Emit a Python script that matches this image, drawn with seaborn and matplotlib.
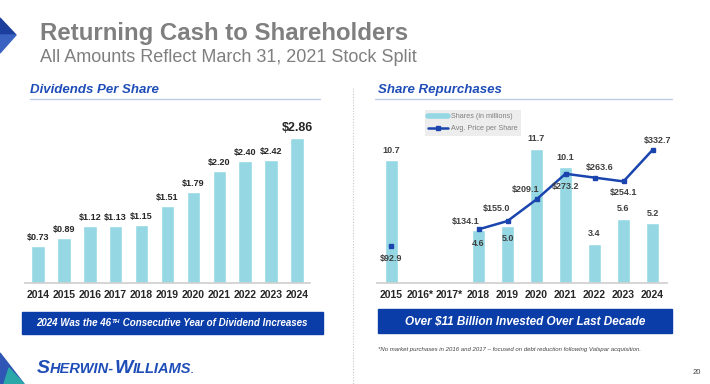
import numpy as np
import matplotlib
matplotlib.use('Agg')
import matplotlib.pyplot as plt
import seaborn as sns
from matplotlib.patches import Rectangle, Polygon
from matplotlib.lines import Line2D

# data
div_years = ['2014', '2015', '2016', '2017', '2018', '2019', '2020', '2021', '2022', '2023', '2024']
div_values = [0.73, 0.89, 1.12, 1.13, 1.15, 1.51, 1.79, 2.20, 2.40, 2.42, 2.86]

rep_years = ['2015', '2016*', '2017*', '2018', '2019', '2020', '2021', '2022', '2023', '2024']
rep_shares = [10.7, np.nan, np.nan, 4.6, 5.0, 11.7, 10.1, 3.4, 5.6, 5.2]
rep_price = [92.9, np.nan, np.nan, 134.1, 155.0, 209.1, 273.2, 263.6, 254.1, 332.7]

BAR = '#95D8E3'
LINE = '#1A45AE'
BLUE = '#0B3DA9'
HEAD = '#1E4DB7'
GRAY = '#7F7F7F'
DARK = '#262626'

sns.set_theme(style='white')
plt.rcParams['font.family'] = ['Liberation Sans', 'DejaVu Sans']

W, H = 710, 384
fig = plt.figure(figsize=(7.1, 3.84), dpi=100)


def px(x, y):
    return (x / W, 1 - y / H)


def rect(x0, y0, x1, y1):
    return [x0 / W, 1 - y1 / H, (x1 - x0) / W, (y1 - y0) / H]


# --- header ---
fig.text(*px(40, 40), 'Returning Cash to Shareholders', fontsize=17.3, fontweight='bold',
         color=GRAY, va='baseline')
fig.text(*px(40, 62), 'All Amounts Reflect March 31, 2021 Stock Split', fontsize=13,
         color=GRAY, va='baseline')
fig.patches.append(Polygon([px(0, 18), px(16, 35), px(0, 35)], closed=True,
                           transform=fig.transFigure, color='#1C3E9C'))
fig.patches.append(Polygon([px(0, 35), px(16, 35), px(0, 53)], closed=True,
                           transform=fig.transFigure, color='#3A62C0'))

# section headings
fig.text(*px(30, 93), 'Dividends Per Share', fontsize=9.5, fontweight='bold', style='italic',
         color=HEAD, va='baseline')
fig.text(*px(378, 93), 'Share Repurchases', fontsize=9.5, fontweight='bold', style='italic',
         color=HEAD, va='baseline')
fig.add_artist(Line2D([30 / W, 320 / W], [1 - 99 / H] * 2, color='#BCCBE8', lw=1))
fig.add_artist(Line2D([375 / W, 672 / W], [1 - 99 / H] * 2, color='#BCCBE8', lw=1))
fig.add_artist(Line2D([353 / W] * 2, [1 - 88 / H, 0], color='#C8C8C8', lw=0.8, ls=(0, (1, 1.5))))

# --- left: dividends ---
ax1 = fig.add_axes(rect(25, 120, 310, 283))
sns.barplot(x=div_years, y=div_values, color=BAR, saturation=1, width=0.52, ax=ax1)
ax1.set_xlim(-0.5, 10.5)
ax1.set_ylim(0, 3.215)
for i, v in enumerate(div_values):
    big = i == len(div_values) - 1
    ax1.annotate(f'${v:.2f}', (i, v), xytext=(0, 3), textcoords='offset points',
                 ha='center', va='bottom', fontsize=9 if big else 6.5, fontweight='bold', color=DARK)

# --- right: repurchases ---
ax2 = fig.add_axes(rect(377, 120, 667, 283))
sns.barplot(x=rep_years, y=rep_shares, order=rep_years, color=BAR, saturation=1, width=0.42, ax=ax2)
ax2.set_xlim(-0.5, 9.5)
ax2.set_ylim(0, 14.23)

ax3 = ax2.twinx()
ax3.plot(range(len(rep_years)), rep_price, color=LINE, lw=1.8, marker='s', ms=3.5)
ax3.set_ylim(0, 407.7)
ax3.axis('off')

share_off = {3: (0, -6, 'top'), 4: (0, -6, 'top')}
for i, v in enumerate(rep_shares):
    if np.isnan(v):
        continue
    dx, dy, va = share_off.get(i, (0, 4, 'bottom'))
    ax2.annotate(f'{v:.1f}', (i, v), xytext=(dx, dy), textcoords='offset points',
                 ha='center', va=va, fontsize=6.5, fontweight='bold', color='#404040')

price_off = {0: (0, -9), 3: (-9, 6), 4: (-8, 9), 5: (-8, 7), 6: (0, -9),
             7: (4, 7), 8: (0, -8), 9: (4, 7)}
for i, v in enumerate(rep_price):
    if np.isnan(v):
        continue
    dx, dy = price_off[i]
    ax3.annotate(f'${v:.1f}', (i, v), xytext=(dx, dy), textcoords='offset points',
                 ha='center', va='center', fontsize=6.5, fontweight='bold', color='#404040')

for ax in (ax1, ax2):
    for s in ('top', 'left', 'right'):
        ax.spines[s].set_visible(False)
    ax.spines['bottom'].set_color('#D0D0D0')
    ax.set_yticks([])
    ax.set_xlabel('')
    ax.set_ylabel('')
    ax.tick_params(axis='x', length=0, pad=5, labelsize=7.5, labelcolor=DARK)
    for t in ax.get_xticklabels():
        t.set_fontweight('bold')
    ax.set_facecolor('none')

handles = [Line2D([], [], color=BAR, lw=4),
           Line2D([], [], color=LINE, lw=1.8, marker='s', ms=2.5)]
fig.legend(handles, ['Shares (in millions)', 'Avg. Price per Share'],
           loc='upper left', bbox_to_anchor=px(421, 106), fontsize=5.2, labelcolor=GRAY,
           facecolor='#EDEDED', edgecolor='none', fancybox=False, framealpha=1,
           handlelength=2.8, handletextpad=0.3, borderpad=0.5, labelspacing=0.7)

# --- callout boxes ---
fig.patches.append(Rectangle(px(22, 334), 301 / W, 22 / H, transform=fig.transFigure,
                             color=BLUE))
fig.patches.append(Rectangle(px(378, 333), 294 / W, 24 / H, transform=fig.transFigure,
                             color=BLUE))
fig.text(*px(525, 322), 'Over $11 Billion Invested Over Last Decade', fontsize=8.5,
         fontweight='bold', style='italic', color='white', ha='center', va='center')

# left box text with superscript
r = fig.canvas.get_renderer()
kw = dict(fontweight='bold', style='italic', color='white', va='baseline')
parts = [('2024 Was the 46', 7, 0), ('TH', 4.5, 3), (' Consecutive Year of Dividend Increases', 7, 0)]
texts = []
for s, fs, rise in parts:
    texts.append(fig.text(0, 0, s, fontsize=fs, **kw))
widths = [t.get_window_extent(r).width for t in texts]
x = 172 - sum(widths) / 2
for (s, fs, rise), t, w in zip(parts, texts, widths):
    t.set_position(px(x, 326 - rise))
    x += w

fig.text(*px(378, 350), '*No market purchases in 2016 and 2017 \u2013 focused on debt reduction following Valspar acquisition.',
         fontsize=4.3, style='italic', color='#404040', va='center')
fig.text(*px(697, 372), '20', fontsize=5.5, color='#404040', ha='center', va='center')

# logo (small caps)
logo = [('S', 14), ('HERWIN-', 10.5), ('W', 14), ('ILLIAMS', 10.5), ('.', 7)]
lt = [fig.text(0, 0, s, fontsize=fs, fontweight='bold', style='italic', color='#1E4DB7',
               va='baseline') for s, fs in logo]
x = 37
for t in lt:
    t.set_position(px(x, 373))
    x += t.get_window_extent(r).width
fig.patches.append(Polygon([px(0, 353), px(24, 384), px(0, 384)], closed=True,
                           transform=fig.transFigure, color='#2F55B5'))
fig.patches.append(Polygon([px(9, 368), px(24, 384), px(4, 384)], closed=True,
                           transform=fig.transFigure, color='#2AA7A8'))

fig.savefig('out.png', dpi=100)
